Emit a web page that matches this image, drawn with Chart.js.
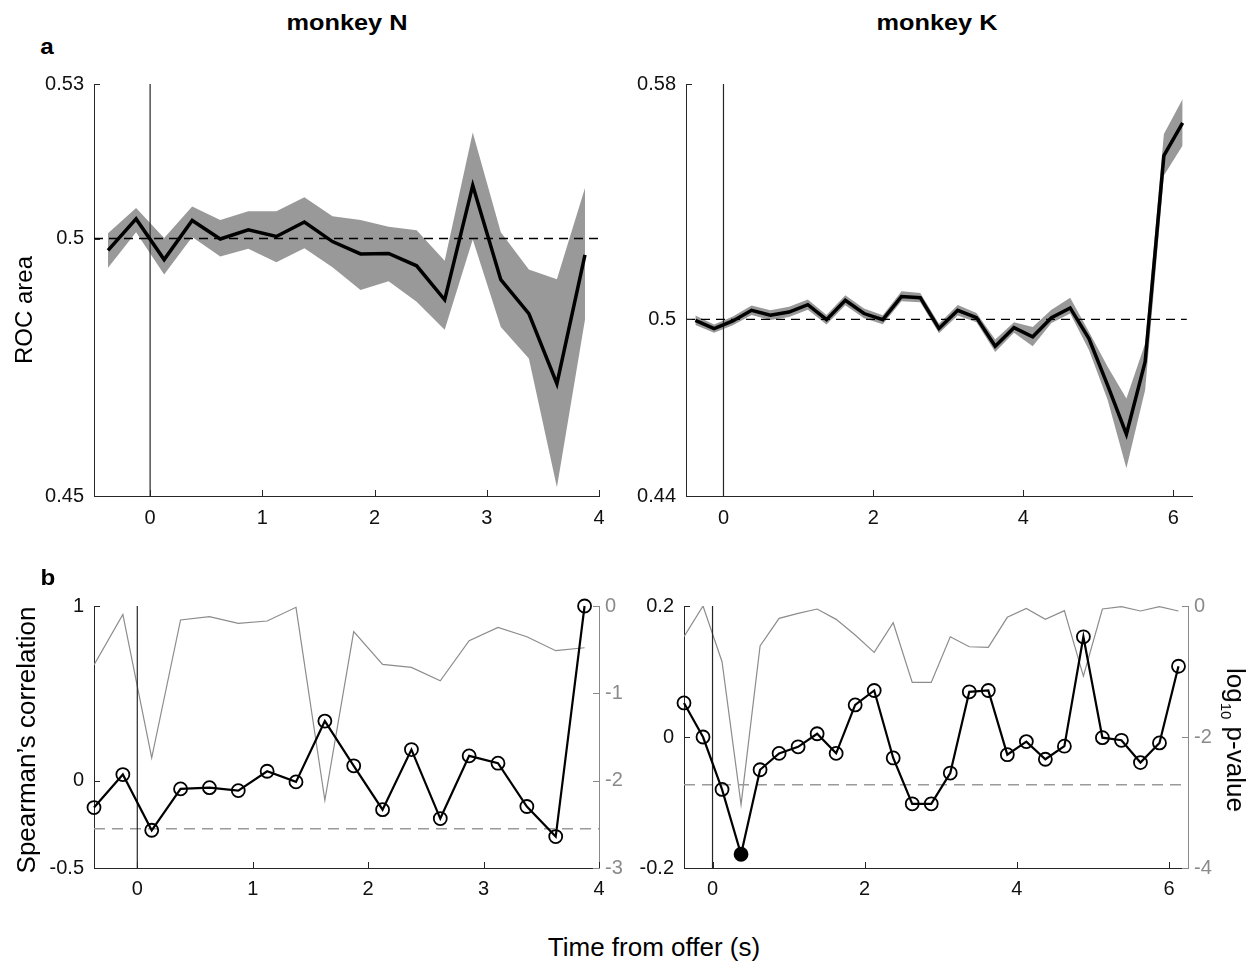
<!DOCTYPE html>
<html><head><meta charset="utf-8">
<script src="https://cdn.jsdelivr.net/npm/chart.js@4.4.1/dist/chart.umd.min.js"></script>
<style>
html,body{margin:0;padding:0;background:#fff;}
#fig{position:relative;width:1253px;height:961px;overflow:hidden;font-family:'Liberation Sans',Arial,Helvetica,sans-serif;color:#000;}
canvas{position:absolute;}
.t{position:absolute;white-space:nowrap;line-height:1;}
</style></head><body>
<div id="fig">
<canvas id="aN"></canvas>
<canvas id="aK"></canvas>
<canvas id="bN"></canvas>
<canvas id="bK"></canvas>
<div class="t" id="tN" style="font-weight:bold;font-size:22px;">monkey N</div>
<div class="t" id="tK" style="font-weight:bold;font-size:22px;">monkey K</div>
<div class="t" id="la" style="font-weight:bold;font-size:22px;">a</div>
<div class="t" id="lb" style="font-weight:bold;font-size:22px;">b</div>
<div class="t" id="yA" style="font-size:24px;">ROC area</div>
<div class="t" id="yB" style="font-size:26px;">Spearman’s correlation</div>
<div class="t" id="yB2" style="font-size:26px;">log<span style="font-size:15px;position:relative;top:6px;">10</span> p-value</div>
<div class="t" id="xl" style="font-size:26px;">Time from offer (s)</div>
</div>
<script>
// ---------- data ----------
const timesN = [-0.375,-0.125,0.125,0.375,0.625,0.875,1.125,1.375,1.625,1.875,2.125,2.375,2.625,2.875,3.125,3.375,3.625,3.875];
const timesK = [-0.375,-0.125,0.125,0.375,0.625,0.875,1.125,1.375,1.625,1.875,2.125,2.375,2.625,2.875,3.125,3.375,3.625,3.875,4.125,4.375,4.625,4.875,5.125,5.375,5.625,5.875,6.125];

const rocMeanN  = [0.4977,0.5038,0.4959,0.5035,0.4999,0.5017,0.5004,0.5032,0.4994,0.4970,0.4971,0.4947,0.4881,0.5103,0.4920,0.4854,0.4718,0.4968];
const rocUpperN = [0.5010,0.5059,0.5001,0.5062,0.5036,0.5053,0.5053,0.5080,0.5043,0.5036,0.5023,0.5016,0.4957,0.5206,0.5012,0.4940,0.4921,0.5098];
const rocLowerN = [0.4943,0.5012,0.4930,0.5003,0.4965,0.4980,0.4954,0.4981,0.4944,0.4900,0.4917,0.4877,0.4823,0.4998,0.4828,0.4767,0.4517,0.4842];

const rocMeanK  = [0.4997,0.4969,0.4995,0.5031,0.5014,0.5025,0.5050,0.4999,0.5065,0.5020,0.4999,0.5078,0.5074,0.4969,0.5031,0.5006,0.4909,0.4972,0.4941,0.5006,0.5039,0.4935,0.4776,0.4610,0.4856,0.5557,0.5668];
const rocUpperK = [0.5013,0.4983,0.5010,0.5047,0.5031,0.5043,0.5068,0.5015,0.5082,0.5037,0.5014,0.5096,0.5090,0.4985,0.5049,0.5022,0.4932,0.4990,0.4974,0.5033,0.5074,0.4958,0.4839,0.4731,0.4918,0.5630,0.5749];
const rocLowerK = [0.4981,0.4955,0.4980,0.5015,0.4998,0.5008,0.5033,0.4983,0.5048,0.5004,0.4984,0.5062,0.5058,0.4953,0.5013,0.4990,0.4889,0.4955,0.4909,0.4988,0.5020,0.4896,0.4726,0.4494,0.4760,0.5489,0.5591];

const rhoN  = [-0.154,0.035,-0.284,-0.047,-0.040,-0.057,0.054,-0.007,0.341,0.085,-0.166,0.178,-0.217,0.142,0.100,-0.148,-0.320,1.0];
const logpN = [-0.676,-0.096,-1.739,-0.160,-0.122,-0.199,-0.172,-0.015,-2.224,-0.294,-0.669,-0.703,-0.856,-0.397,-0.245,-0.352,-0.512,-0.478];
const rhoK  = [0.052,0.000,-0.080,-0.179,-0.050,-0.025,-0.015,0.005,-0.025,0.049,0.071,-0.032,-0.102,-0.102,-0.055,0.069,0.071,-0.027,-0.007,-0.034,-0.014,0.153,-0.001,-0.005,-0.039,-0.009,0.108];
const logpK = [-0.469,0.0,-0.851,-3.032,-0.611,-0.189,-0.112,-0.046,-0.204,-0.443,-0.708,-0.255,-1.167,-1.167,-0.469,-0.622,-0.632,-0.173,-0.036,-0.204,-0.071,-1.070,-0.046,-0.010,-0.076,-0.010,-0.076];

const threshN = -2.55;   // log10 p significance threshold, monkey N
const threshK = -2.73;   // log10 p significance threshold, monkey K
const chanceROC = 0.5;

// axis ranges & tick labels
const xRangeAN = [-0.5, 4],   xTicksN = [0,1,2,3,4];
const xRangeAK = [-0.5, 6.25], xTicksK = [0,2,4,6];
const xRangeBN = [-0.375, 4];
const xRangeBK = [-0.375, 6.25];
const yRangeAN = [0.45, 0.53], yTicksAN = [0.45, 0.5, 0.53];
const yRangeAK = [0.44, 0.58], yTicksAK = [0.44, 0.5, 0.58];
const yRangeBN = [-0.5, 1],    yTicksBN = [-0.5, 0, 1];
const y2RangeBN = [-3, 0],     y2TicksBN = [-3,-2,-1,0];
const yRangeBK = [-0.2, 0.2],  yTicksBK = [-0.2, 0, 0.2];
const y2RangeBK = [-4, 0],     y2TicksBK = [-4,-2,0];
const refEndAN = 4, refEndAK = 6.18, refEndBN = 4, refEndBK = 6.2;

// ---------- styling ----------
const AXIS = '#262626', GRAYAX = '#8a8a8a', BAND = '#999999', PLINE = '#8c8c8c', DASHG = '#9a9a9a';
const FONT = "'Liberation Sans', Arial, Helvetica, sans-serif";
Chart.defaults.font.family = FONT;
const tickFont = {family: FONT, size: 20};
const fmt = v => String(v);
const xy = (xs, ys) => xs.map((x, i) => ({x, y: ys[i]}));

const inTicks = {
  id: 'inTicks',
  afterDraw(chart) {
    const ctx = chart.ctx, a = chart.chartArea, L = 6;
    ctx.save(); ctx.lineWidth = 1;
    Object.values(chart.scales).forEach(s => {
      ctx.strokeStyle = s.options.border.color;
      s.ticks.forEach(t => {
        const p = Math.round(s.getPixelForValue(t.value)) + 0.5;
        ctx.beginPath();
        if (s.options.position === 'bottom') { ctx.moveTo(p, a.bottom); ctx.lineTo(p, a.bottom - L); }
        else if (s.options.position === 'left') { ctx.moveTo(a.left, p); ctx.lineTo(a.left + L, p); }
        else { ctx.moveTo(a.right, p); ctx.lineTo(a.right - L, p); }
        ctx.stroke();
      });
    });
    ctx.restore();
  }
};

function scaleX(range, ticks, h, pad) {
  return {type: 'linear', position: 'bottom', min: range[0], max: range[1],
    afterBuildTicks: s => { s.ticks = ticks.map(v => ({value: v})); },
    afterFit: s => { s.height = h; },
    grid: {display: false, drawTicks: false},
    border: {display: true, color: AXIS, width: 1},
    ticks: {font: tickFont, color: '#111', padding: pad, maxRotation: 0, autoSkip: false, callback: fmt}};
}
function scaleY(range, ticks, w, pos, color) {
  return {type: 'linear', position: pos, min: range[0], max: range[1],
    afterBuildTicks: s => { s.ticks = ticks.map(v => ({value: v})); },
    afterFit: s => { s.width = w; },
    grid: {display: false, drawTicks: false},
    border: {display: true, color: color, width: 1},
    ticks: {font: tickFont, color: color === AXIS ? '#111' : color, padding: pos === 'left' ? 10 : 6, autoSkip: false, callback: fmt}};
}

function place(id, box) {
  const cv = document.getElementById(id);
  cv.width = box.w; cv.height = box.h;
  cv.style.left = box.x + 'px'; cv.style.top = box.y + 'px';
  cv.style.width = box.w + 'px'; cv.style.height = box.h + 'px';
  return cv;
}

function rocPanel(id, box, area, times, mean, up, lo, xr, xt, yr, yt, refEnd) {
  const cv = place(id, box);
  const L = area.l - box.x, T = area.t - box.y, R = area.r - box.x, B = area.b - box.y;
  new Chart(cv, {
    type: 'line',
    data: {datasets: [
      {data: xy(times, up), borderWidth: 0, borderColor: 'rgba(0,0,0,0)', backgroundColor: BAND, fill: '+1', pointRadius: 0, order: 10},
      {data: xy(times, lo), borderWidth: 0, borderColor: 'rgba(0,0,0,0)', fill: false, pointRadius: 0, order: 10},
      {data: [{x: 0, y: yr[0]}, {x: 0, y: yr[1]}], borderColor: AXIS, borderWidth: 1.2, pointRadius: 0, fill: false, order: 3},
      {data: [{x: xr[0], y: chanceROC}, {x: refEnd, y: chanceROC}], borderColor: '#000', borderWidth: 1.3, borderDash: [9, 6], pointRadius: 0, fill: false, order: 2},
      {data: xy(times, mean), borderColor: '#000', borderWidth: 3.5, pointRadius: 0, fill: false, order: 1}
    ]},
    options: {
      responsive: false, animation: false, devicePixelRatio: 1, events: [],
      layout: {padding: {top: T, right: box.w - R, left: 0, bottom: 0}},
      plugins: {legend: {display: false}, tooltip: {enabled: false}},
      scales: {x: scaleX(xr, xt, box.h - B, 10), y: scaleY(yr, yt, L, 'left', AXIS)}
    },
    plugins: [inTicks]
  });
}

function rhoPanel(id, box, area, times, rho, logp, thr, xr, xt, yr, yt, y2r, y2t, refEnd) {
  const cv = place(id, box);
  const L = area.l - box.x, T = area.t - box.y, R = area.r - box.x, B = area.b - box.y;
  new Chart(cv, {
    type: 'line',
    data: {datasets: [
      {data: xy(times, logp), yAxisID: 'y2', borderColor: PLINE, borderWidth: 1.2, pointRadius: 0, fill: false, order: 5},
      {data: [{x: xr[0], y: thr}, {x: refEnd, y: thr}], yAxisID: 'y2', borderColor: DASHG, borderWidth: 1.4, borderDash: [11, 7], pointRadius: 0, fill: false, order: 4},
      {data: [{x: 0, y: yr[0]}, {x: 0, y: yr[1]}], yAxisID: 'y', borderColor: AXIS, borderWidth: 1.2, pointRadius: 0, fill: false, order: 3},
      {data: xy(times, rho), yAxisID: 'y', borderColor: '#000', borderWidth: 2.2, fill: false, clip: false,
        pointRadius: 6.5, pointBorderWidth: 1.8, pointBorderColor: '#000',
        pointBackgroundColor: logp.map(v => v < thr ? '#000' : 'rgba(0,0,0,0)'), order: 1}
    ]},
    options: {
      responsive: false, animation: false, devicePixelRatio: 1, events: [],
      layout: {padding: {top: T, right: 0, left: 0, bottom: 0}},
      plugins: {legend: {display: false}, tooltip: {enabled: false}},
      scales: {
        x: scaleX(xr, xt, box.h - B, 9),
        y: scaleY(yr, yt, L, 'left', AXIS),
        y2: scaleY(y2r, y2t, box.w - R, 'right', GRAYAX)
      }
    },
    plugins: [inTicks]
  });
}

rocPanel('aN', {x: 0, y: 60, w: 640, h: 490}, {l: 94, t: 84, r: 599, b: 496},
  timesN, rocMeanN, rocUpperN, rocLowerN, xRangeAN, xTicksN, yRangeAN, yTicksAN, refEndAN);
rocPanel('aK', {x: 600, y: 60, w: 653, h: 490}, {l: 686, t: 84, r: 1192, b: 496},
  timesK, rocMeanK, rocUpperK, rocLowerK, xRangeAK, xTicksK, yRangeAK, yTicksAK, refEndAK);
rhoPanel('bN', {x: 0, y: 580, w: 640, h: 340}, {l: 94, t: 606, r: 599, b: 868},
  timesN, rhoN, logpN, threshN, xRangeBN, xTicksN, yRangeBN, yTicksBN, y2RangeBN, y2TicksBN, refEndBN);
rhoPanel('bK', {x: 600, y: 580, w: 653, h: 340}, {l: 684, t: 606, r: 1188, b: 868},
  timesK, rhoK, logpK, threshK, xRangeBK, xTicksK, yRangeBK, yTicksBK, y2RangeBK, y2TicksBK, refEndBK);

// ---------- text placement (centre points) ----------
function putText(id, cx, cy, rot, sx) {
  const el = document.getElementById(id);
  el.style.left = cx + 'px'; el.style.top = cy + 'px';
  el.style.transform = 'translate(-50%,-50%)' + (rot ? ' rotate(' + rot + 'deg)' : '') + (sx ? ' scaleX(' + sx + ')' : '');
}
putText('tN', 347, 23, 0, 1.15);
putText('tK', 937, 23, 0, 1.15);
putText('la', 47, 47, 0, 1.1);
putText('lb', 48, 578, 0, 1.1);
putText('yA', 24, 310, -90, 0);
putText('yB', 26, 740, -90, 0);
putText('yB2', 1236, 740, 90, 0);
putText('xl', 654, 947, 0, 0);
</script>
</body></html>
